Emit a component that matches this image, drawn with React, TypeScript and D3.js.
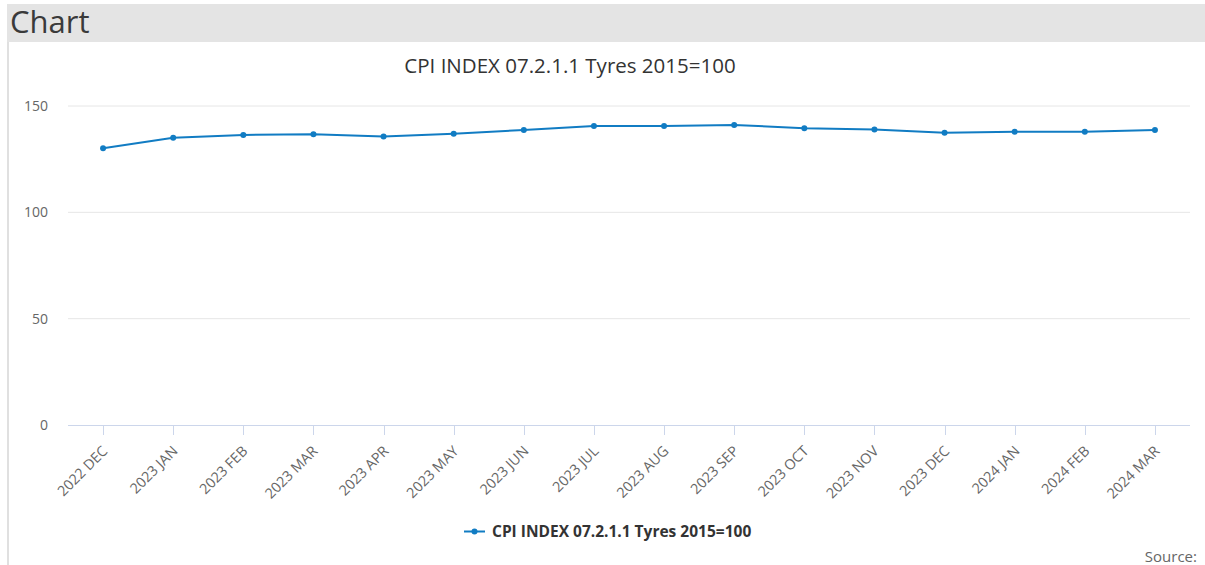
import React from "react";
import * as d3 from "d3";

const categories = [
  "2022 DEC", "2023 JAN", "2023 FEB", "2023 MAR", "2023 APR", "2023 MAY",
  "2023 JUN", "2023 JUL", "2023 AUG", "2023 SEP", "2023 OCT", "2023 NOV",
  "2023 DEC", "2024 JAN", "2024 FEB", "2024 MAR",
];
const values = [
  130.1, 135.1, 136.4, 136.7, 135.7, 137.0, 138.7, 140.6,
  140.6, 141.1, 139.5, 139.0, 137.4, 137.9, 137.9, 138.7,
];
const yTicks = [0, 50, 100, 150];
const seriesName = "CPI INDEX 07.2.1.1 Tyres 2015=100";
const chartTitle = "CPI INDEX 07.2.1.1 Tyres 2015=100";

const W = 1205;
const H = 565;
const plot = { left: 68, right: 1190, top: 106, bottom: 425 };
const lineColor = "#117cc3";
const font = "'Open Sans', sans-serif";

export default function App() {
  const x = d3
    .scalePoint<string>()
    .domain(categories)
    .range([plot.left, plot.right])
    .padding(0.5);
  const y = d3.scaleLinear().domain([0, 150]).range([plot.bottom, plot.top]);
  const line = d3
    .line<number>()
    .x((_, i) => x(categories[i]) as number)
    .y((d) => y(d));

  return (
    <svg
      width={W}
      height={H}
      style={{ position: "absolute", left: 0, top: 0, background: "#fff" }}
      fontFamily={font}
    >
      {/* header */}
      <rect x={7} y={4} width={W - 7} height={38} fill="#e4e4e4" />
      <text x={10} y={33} fontSize={31} fill="#3a3a3a">Chart</text>
      <rect x={7} y={42} width={2} height={H - 42} fill="#e0e0e0" />

      {/* title */}
      <text x={570} y={73} textAnchor="middle" fontSize={20.5} fill="#333">
        {chartTitle}
      </text>

      {/* grid */}
      {yTicks.map((t) => (
        <g key={t}>
          {t !== 0 && (
            <line x1={plot.left} x2={plot.right} y1={y(t)} y2={y(t)} stroke="#e6e6e6" strokeWidth={1} />
          )}
          <text x={48} y={y(t) + 5} textAnchor="end" fontSize={14} fill="#666">
            {t}
          </text>
        </g>
      ))}

      {/* x axis */}
      <line x1={plot.left} x2={plot.right} y1={plot.bottom + 0.5} y2={plot.bottom + 0.5} stroke="#ccd6eb" />
      {categories.map((c) => {
        const px = Math.round(x(c) as number) + 0.5;
        return (
          <g key={c}>
            <line x1={px} x2={px} y1={plot.bottom} y2={plot.bottom + 10} stroke="#ccd6eb" />
            <text
              transform={`translate(${px + 5},${plot.bottom + 27}) rotate(-45)`}
              textAnchor="end"
              fontSize={14.3}
              fill="#666"
            >
              {c}
            </text>
          </g>
        );
      })}

      {/* series */}
      <path d={line(values) || ""} fill="none" stroke={lineColor} strokeWidth={2} strokeLinejoin="round" />
      {values.map((v, i) => (
        <circle key={i} cx={x(categories[i]) as number} cy={y(v)} r={3} fill={lineColor} />
      ))}

      {/* legend */}
      <line x1={464} x2={485} y1={531.5} y2={531.5} stroke={lineColor} strokeWidth={2} />
      <circle cx={474.5} cy={531.5} r={3} fill={lineColor} />
      <text x={492} y={537} fontSize={15.5} fontWeight="bold" fill="#333">
        {seriesName}
      </text>

      {/* source */}
      <text x={1197} y={562} textAnchor="end" fontSize={15} fill="#666">Source:</text>
    </svg>
  );
}
